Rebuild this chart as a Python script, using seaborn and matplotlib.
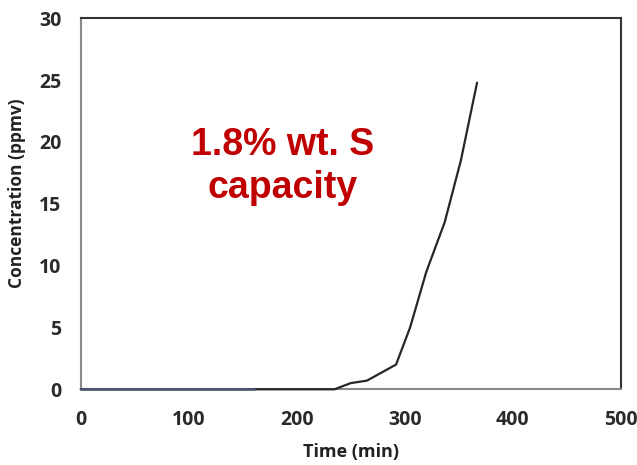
import pandas as pd
import matplotlib.pyplot as plt
import seaborn as sns

# breakthrough curve
time_min = [0, 160, 235, 250, 265, 292, 305, 320, 337, 352, 367]
conc_ppmv = [0, 0, 0, 0.5, 0.7, 2.0, 5.0, 9.5, 13.5, 18.5, 24.8]

# short hidden series under the baseline (bluish segment)
base_time = [0, 160]
base_conc = [0, 0]

x_ticks = [0, 100, 200, 300, 400, 500]
y_ticks = [0, 5, 10, 15, 20, 25, 30]
note_lines = ["1.8% wt. S", "capacity"]

sns.set_style("white")
plt.rcParams['font.family'] = ['Open Sans', 'DejaVu Sans']

df = pd.DataFrame({'Time': time_min, 'Conc': conc_ppmv})
df_base = pd.DataFrame({'Time': base_time, 'Conc': base_conc})

fig = plt.figure(figsize=(6.37, 4.65), dpi=100)
ax = fig.add_axes([0.1267, 0.1628, 0.8477, 0.7978])

sns.lineplot(data=df, x='Time', y='Conc', ax=ax, color='#262626', linewidth=1.6,
             clip_on=False, zorder=5)
sns.lineplot(data=df_base, x='Time', y='Conc', ax=ax, color='#4a5a70', linewidth=1.8,
             clip_on=False, zorder=6)

ax.set_xlim(0, 500)
ax.set_ylim(0, 30)
ax.set_xticks(x_ticks)
ax.set_yticks(y_ticks)
ax.tick_params(axis='both', direction='out', length=6, width=1.2, color='#8a8a8a',
               labelsize=14, labelcolor='#2a2a2a')
ax.tick_params(axis='x', pad=9)
ax.tick_params(axis='y', pad=8)
for lab in ax.get_xticklabels() + ax.get_yticklabels():
    lab.set_fontweight('bold')

ax.set_xlabel('Time (min)', fontsize=13, fontweight='bold', color='#222222')
ax.set_ylabel('Concentration (ppmv)', fontsize=12.5, fontweight='bold', color='#222222')
ax.xaxis.set_label_coords(0.5, -0.145)
ax.yaxis.set_label_coords(-0.101, 0.529)

for side in ['left', 'bottom']:
    ax.spines[side].set_color('#8a8a8a')
    ax.spines[side].set_linewidth(1.5)
for side in ['top', 'right']:
    ax.spines[side].set_color('#333333')
    ax.spines[side].set_linewidth(1.5)
    ax.spines[side].set_visible(True)

ax.text(187.3, 18.94, note_lines[0], ha='center', va='baseline', color='#C00000', fontsize=27,
        fontweight='bold', family=['Liberation Sans', 'DejaVu Sans'])
ax.text(186.9, 15.47, note_lines[1], ha='center', va='baseline', color='#C00000', fontsize=27,
        fontweight='bold', family=['Liberation Sans', 'DejaVu Sans'])

plt.savefig('out.png', dpi=100)
